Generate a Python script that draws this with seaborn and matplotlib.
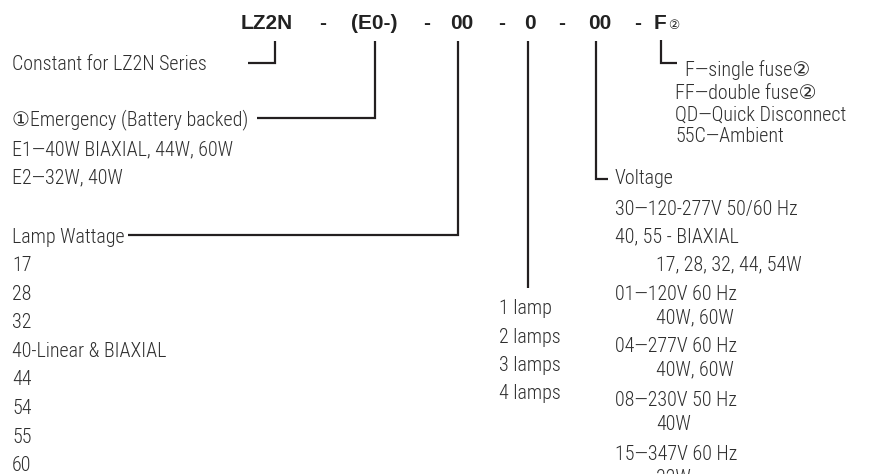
import matplotlib
matplotlib.use("Agg")
import matplotlib.pyplot as plt
import seaborn as sns

sns.set_style("white")
BODY = ["Roboto Condensed", "DejaVu Sans"]
plt.rcParams["font.family"] = BODY

# ── catalogue content ────────────────────────────────────────────────────────
code_parts = ["LZ2N", "-", "(E0-)", "-", "00", "-", "0", "-", "00", "-", "F"]
code_x = [267, 323, 374, 427, 462, 502, 530, 562, 600, 638, 660]

constant_label = "Constant for LZ2N Series"
emergency_label = "①Emergency (Battery backed)"
emergency_opts = ["E1—40W BIAXIAL, 44W, 60W", "E2—32W, 40W"]

wattage_label = "Lamp Wattage"
wattages = ["17", "28", "32", "40-Linear & BIAXIAL", "44", "54", "55", "60"]

lamps = ["1 lamp", "2 lamps", "3 lamps", "4 lamps"]

voltage_label = "Voltage"
voltage_lines = ["30—120-277V 50/60 Hz", "40, 55 - BIAXIAL", "17, 28, 32, 44, 54W",
                 "01—120V 60 Hz", "40W, 60W", "04—277V 60 Hz", "40W, 60W",
                 "08—230V 50 Hz", "40W", "15—347V 60 Hz", "32W"]
voltage_indent = [0, 0, 1, 0, 1, 0, 1, 0, 1, 0, 1]

fuse_opts = ["F—single fuse②", "FF—double fuse②", "QD—Quick Disconnect", "55C—Ambient"]

# ── layout ───────────────────────────────────────────────────────────────────
TXT = "#2e2e2e"
LN = "#231f20"
FS = 14.4
# 340 -> Roboto Condensed Light, but DejaVu Sans Book (not ExtraLight) for ① ②
WEIGHT = 340
LW = 1.6

fig = plt.figure(figsize=(8.7, 4.74), dpi=100)
ax = fig.add_axes([0, 0, 1, 1])
ax.set_xlim(0, 870)
ax.set_ylim(474, 0)
ax.axis("off")


def label(x, y, s, **kw):
    # y is the vertical middle of the capitals
    ax.text(x, y + 7.5, s, fontsize=kw.pop("fontsize", FS), color=TXT,
            va="baseline", family=BODY, fontweight=WEIGHT, **kw)


# header code
for part, x in zip(code_parts, code_x):
    ax.text(x, 28.5, part, fontsize=15, fontweight="bold", color="#222222",
            ha="center", va="baseline", family=["Liberation Sans", "DejaVu Sans"])
ax.text(674, 28.5, "②", fontsize=9, color="#222222", ha="center",
        va="baseline", family=["DejaVu Sans"])

# connectors
connectors = [
    ([275, 275, 248], [41, 63, 63]),
    ([375, 375, 257], [41, 118, 118]),
    ([458, 458, 128], [41, 235, 235]),
    ([528, 528], [41, 288]),
    ([596, 596, 608], [41, 179, 179]),
    ([661, 661, 677], [40, 63, 63]),
]
for xs, ys in connectors:
    ax.plot(xs, ys, color=LN, lw=LW, solid_joinstyle="miter",
            solid_capstyle="butt")

# left column
label(12, 62, constant_label)
label(12, 118, emergency_label)
for i, s in enumerate(emergency_opts):
    label(12, 148 + i * 27.5, s)

label(12, 235, wattage_label)
for i, s in enumerate(wattages):
    label(12, 263.5 + i * 28.6, s)

# lamps column
for i, s in enumerate(lamps):
    label(499, 307 + i * 28.3, s)

# voltage column
label(615, 177, voltage_label)
volt_y = [207, 235, 263, 293, 316, 345, 368, 398, 422, 452, 476]
for s, ind, y in zip(voltage_lines, voltage_indent, volt_y):
    label(656 if ind else 615, y, s)

# fuse column
fuse_y = [68, 91, 113, 135]
for i, (s, y) in enumerate(zip(fuse_opts, fuse_y)):
    label(685 if i == 0 else 675, y, s)

fig.savefig("out.png", dpi=100)
